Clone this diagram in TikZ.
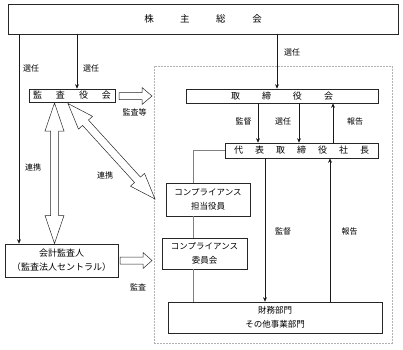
\documentclass[tikz,border=0pt]{standalone}
\usepackage{fontspec}
\setmainfont{Noto Sans CJK JP}
\usetikzlibrary{calc,arrows.meta}
\newcommand\hdblarrow[5]{%
\draw[hollow] (#1) -- ($(#1)!#5!(#2)!#4!90:(#2)$) -- ($(#1)!#5!(#2)!#3!90:(#2)$) -- ($(#2)!#5!(#1)!#3!-90:(#1)$) -- ($(#2)!#5!(#1)!#4!-90:(#1)$) -- (#2) -- ($(#2)!#5!(#1)!#4!90:(#1)$) -- ($(#2)!#5!(#1)!#3!90:(#1)$) -- ($(#1)!#5!(#2)!#3!-90:(#2)$) -- ($(#1)!#5!(#2)!#4!-90:(#2)$) -- cycle;}
\newcommand\hsglarrow[5]{%
\draw[hollow] ($(#1)!#3!90:(#2)$) -- ($(#2)!#5!(#1)!#3!-90:(#1)$) -- ($(#2)!#5!(#1)!#4!-90:(#1)$) -- (#2) -- ($(#2)!#5!(#1)!#4!90:(#1)$) -- ($(#2)!#5!(#1)!#3!90:(#1)$) -- ($(#1)!#3!-90:(#2)$) -- cycle;}
\begin{document}
\begin{tikzpicture}[x=1pt,y=-1pt,
 box/.style={draw=black!85, line width=0.6pt, inner sep=0pt, align=center, fill=white, font=\fontsize{8.5}{14}\selectfont},
 lbl/.style={font=\fontsize{8}{9}\selectfont, inner sep=0pt},
 conn/.style={line width=0.55pt, draw=black!90},
 tip/.style={-{Stealth[length=4.5pt,width=3.8pt]}},
 gline/.style={line width=0.9pt, draw=black!50},
 hollow/.style={draw=black!85, line width=0.5pt, fill=white, line join=miter}]
\useasboundingbox (0,0) rectangle (403,349);
% dashed region
\node[draw=black!30, dash pattern=on 2pt off 1pt, line width=0.6pt, minimum width=238pt, minimum height=277pt, inner sep=0pt] (region) at (273,204.5) {};
% boxes
\node[box, minimum width=390pt, minimum height=30pt, font=\fontsize{9.5}{11}\selectfont] (gm) at (203,19) {株\hspace{26.5pt}主\hspace{26.5pt}総\hspace{26.5pt}会};
\node[box, minimum width=86pt, minimum height=13pt, font=\fontsize{9}{10}\selectfont] (kansa) at (72,95.5) {監\hspace{14pt}査\hspace{14pt}役\hspace{14pt}会};
\node[box, minimum width=192pt, minimum height=14pt, font=\fontsize{9}{10}\selectfont] (tori) at (282,96) {取\hspace{22pt}締\hspace{22pt}役\hspace{22pt}会};
\node[box, minimum width=153pt, minimum height=15pt, font=\fontsize{9}{10}\selectfont] (daihyo) at (301.5,150.5) {代\hspace{12pt}表\hspace{12pt}取\hspace{12pt}締\hspace{12pt}役\hspace{12pt}社\hspace{12pt}長};
\node[box, minimum width=84pt, minimum height=33pt] (comp1) at (208,199.5) {コンプライアンス\\担当役員};
\node[box, minimum width=85pt, minimum height=31pt] (comp2) at (204.5,253.5) {コンプライアンス\\委員会};
\node[box, minimum width=214pt, minimum height=31pt] (zaimu) at (275,317.5) {財務部門\\その他事業部門};
\node[box, minimum width=113pt, minimum height=33pt, font=\fontsize{9}{14}\selectfont] (kaikei) at (61.5,260.5) {会計監査人\\（監査法人セントラル）};
% x positions
\coordinate (x1) at (19,0);
\coordinate (x2) at (77,0);
\coordinate (x3) at (277,0);
\coordinate (x4) at (258,0);
\coordinate (x5) at (299,0);
\coordinate (x6) at (333,0);
\coordinate (x7) at (265,0);
\coordinate (x8) at (330,0);
\coordinate (xg) at (193,0);
% connectors
\draw[conn, tip] (gm.south -| x1) -- (kaikei.north -| x1);
\draw[conn, tip] (gm.south -| x2) -- (kansa.north -| x2);
\draw[conn, tip] (gm.south -| x3) -- (tori.north -| x3);
\draw[conn, tip] (tori.south -| x4) -- (daihyo.north -| x4);
\draw[conn, tip] (tori.south -| x5) -- (daihyo.north -| x5);
\draw[conn, tip] (daihyo.north -| x6) -- (tori.south -| x6);
\draw[conn, tip] (daihyo.south -| x7) -- (zaimu.north -| x7);
\draw[conn, tip] (zaimu.north -| x8) -- (daihyo.south -| x8);
\draw[gline] (daihyo.west) -| (comp1.north -| xg);
\draw[gline] (comp1.south -| xg) -- (comp2.north -| xg);
\draw[gline] (comp2.south -| xg) -- (zaimu.north -| xg);
% hollow arrows
\coordinate (hA1) at (119,96);
\coordinate (hB1) at (152,96);
\coordinate (hA2) at (120,260.5);
\coordinate (hB2) at (152,260.5);
\coordinate (vA) at (54.5,103);
\coordinate (vB) at (54.5,243.5);
\coordinate (dA) at (68,103.5);
\coordinate (dB) at (155,199);
\hsglarrow{hA1}{hB1}{3.5pt}{8.5pt}{10pt}
\hsglarrow{hA2}{hB2}{3.5pt}{8pt}{9pt}
\hdblarrow{vA}{vB}{4pt}{9.5pt}{28pt}
\hdblarrow{dA}{dB}{4pt}{9.5pt}{26pt}
% labels
\node[lbl] (l1) at (31,68) {選任};
\node[lbl] (l2) at (91,68) {選任};
\node[lbl] (l3) at (292,52) {選任};
\node[lbl] (l4) at (134.5,112) {監査等};
\node[lbl] (l5) at (243.5,121) {監督};
\node[lbl] (l6) at (283,121) {選任};
\node[lbl] (l7) at (355,121) {報告};
\node[lbl] (l8) at (33,167) {連携};
\node[lbl] (l9) at (105,175) {連携};
\node[lbl] (l10) at (283,231) {監督};
\node[lbl] (l11) at (349.5,231) {報告};
\node[lbl] (l12) at (138,287) {監査};
\end{tikzpicture}
\end{document}
